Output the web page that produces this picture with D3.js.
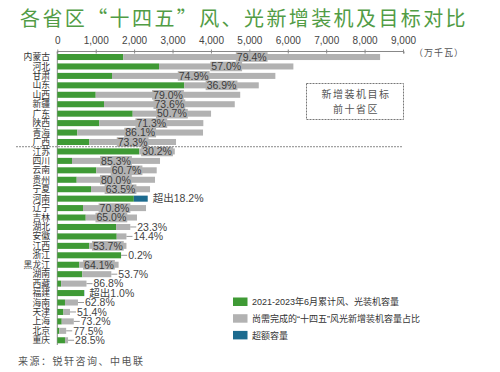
<!DOCTYPE html>
<html>
<head>
<meta charset="utf-8">
<script src="https://cdn.jsdelivr.net/npm/d3@7"></script>
<style>
  body { margin: 0; background: #fff; }
  svg { display: block; }
</style>
</head>
<body>
<div id="chart"></div>
<script>
const provinces = ['内蒙古', '河北', '甘肃', '山东', '山西', '新疆', '广东', '陕西', '青海', '广西',
  '江苏', '四川', '云南', '贵州', '宁夏', '河南', '辽宁', '吉林', '湖北', '安徽', '江西', '浙江',
  '黑龙江', '湖南', '西藏', '福建', '海南', '天津', '上海', '北京', '重庆'];

// 2021-2023.6 cumulative wind + solar installed (万千瓦)
const installed = [1719, 2648, 1424, 3307, 1000, 1216, 1963, 1094, 521, 833,
  2135, 383, 1016, 505, 878, 2354, 669, 740, 1529, 1547, 833, 1659,
  573, 651, 100, 703, 200, 160, 115, 52, 200];

// "十四五" new-installation target (万千瓦)
const target = [8404, 6146, 5677, 5245, 4762, 4620, 4003, 3802, 3794, 3091,
  3059, 2674, 2588, 2544, 2414, 1992, 2310, 2075, 1900, 1800, 1800, 1662,
  1596, 1406, 760, 696, 538, 330, 429, 231, 280];

const pctLabels = ['79.4%', '57.0%', '74.9%', '36.9%', '79.0%', '73.6%', '50.7%', '71.3%', '86.1%', '73.3%',
  '30.2%', '85.3%', '60.7%', '80.0%', '63.5%', '超出18.2%', '70.8%', '65.0%', '23.3%', '14.4%', '53.7%', '0.2%',
  '64.1%', '53.7%', '86.8%', '超出1.0%', '62.8%', '51.4%', '73.2%', '77.5%', '28.5%'];

const xTicks = [0, 1000, 2000, 3000, 4000, 5000, 6000, 7000, 8000, 9000];

const legendItems = [
  { label: '2021-2023年6月累计风、光装机容量', color: '#3f9a35' },
  { label: '尚需完成的“十四五”风光新增装机容量占比', color: '#b2b2b2' },
  { label: '超额容量', color: '#1b6a8e' }
];

const W = 500;
const H = 372;
const GREEN = '#3f9a35';
const GRAY = '#b2b2b2';
const BLUE = '#1b6a8e';
const numFont = '"Liberation Sans", Arial, "Noto Sans CJK SC", sans-serif';
const cjkFont = '"Noto Sans CJK SC", sans-serif';

const data = provinces.map((p, i) => ({
  name: p,
  done: installed[i],
  goal: target[i],
  label: pctLabels[i]
}));

const svg = d3.select('#chart').append('svg')
  .attr('width', W)
  .attr('height', H);

// Title
svg.append('text')
  .attr('x', 20)
  .attr('y', 26)
  .attr('fill', '#519c45')
  .style('font-family', cjkFont)
  .style('font-size', '20px')
  .style('letter-spacing', '2.4px')
  .text('各省区“十四五”风、光新增装机及目标对比');

// Scales
const x = d3.scaleLinear()
  .domain([0, 9000])
  .range([57.3, 403]);

const y = d3.scaleBand()
  .domain(provinces)
  .range([52.3, 345])
  .paddingInner(0.36)
  .paddingOuter(0.18);

// Top axis
const xAxis = d3.axisTop(x)
  .tickValues(xTicks)
  .tickFormat(d3.format(','))
  .tickSize(3)
  .tickPadding(5);

const axisG = svg.append('g')
  .attr('transform', 'translate(0, 51.5)')
  .call(xAxis);

axisG.select('.domain')
  .attr('stroke', '#888')
  .attr('d', `M${x(0)},2V0H${x(9000) + 1}V2`);
axisG.selectAll('.tick line').attr('stroke', '#888').attr('y2', 2).attr('y1', -2);
axisG.selectAll('.tick text')
  .attr('fill', '#444')
  .style('font-family', numFont)
  .style('font-size', '10px');

svg.append('text')
  .attr('x', 414)
  .attr('y', 56)
  .attr('fill', '#555')
  .style('font-family', cjkFont)
  .style('font-size', '9px')
  .style('letter-spacing', '1px')
  .text('（万千瓦）');

// Left axis line
svg.append('line')
  .attr('x1', x(0))
  .attr('x2', x(0))
  .attr('y1', 51.5)
  .attr('y2', 345)
  .attr('stroke', '#888');

// Province labels
svg.append('g').selectAll('text')
  .data(data)
  .join('text')
  .attr('x', 50)
  .attr('y', d => y(d.name) + y.bandwidth() / 2)
  .attr('dy', '0.35em')
  .attr('text-anchor', 'end')
  .attr('fill', '#333')
  .style('font-family', cjkFont)
  .style('font-size', '8.8px')
  .text(d => d.name);

const bars = svg.append('g');

// green: installed, capped at target
bars.selectAll('rect.done')
  .data(data)
  .join('rect')
  .attr('class', 'done')
  .attr('x', x(0))
  .attr('y', d => y(d.name))
  .attr('width', d => x(Math.min(d.done, d.goal)) - x(0))
  .attr('height', y.bandwidth())
  .attr('fill', GREEN);

// gray: remaining to target
bars.selectAll('rect.left')
  .data(data.filter(d => d.goal > d.done))
  .join('rect')
  .attr('class', 'left')
  .attr('x', d => x(d.done))
  .attr('y', d => y(d.name))
  .attr('width', d => x(d.goal) - x(d.done))
  .attr('height', y.bandwidth())
  .attr('fill', GRAY);

// blue: over target
bars.selectAll('rect.over')
  .data(data.filter(d => d.done > d.goal))
  .join('rect')
  .attr('class', 'over')
  .attr('x', d => x(d.goal))
  .attr('y', d => y(d.name))
  .attr('width', d => x(d.done) - x(d.goal))
  .attr('height', y.bandwidth())
  .attr('fill', BLUE);

// value labels
const labelG = svg.append('g');

data.forEach((d) => {
  const cy = y(d.name) + y.bandwidth() / 2;
  const x0 = x(d.done);
  const x1 = x(d.goal);
  const end = Math.max(x0, x1);

  if (d.done > d.goal) {
    labelG.append('text')
      .attr('x', end + 5)
      .attr('y', cy)
      .attr('dy', '0.36em')
      .attr('fill', '#444')
      .style('font-family', numFont)
      .style('font-size', '10.5px')
      .text(d.label);
  } else if (x1 - x0 >= 30) {
    const t = labelG.append('text')
      .attr('x', (x0 + x1) / 2)
      .attr('y', cy)
      .attr('dy', '0.36em')
      .attr('text-anchor', 'middle')
      .attr('fill', '#3c3c3c')
      .style('font-family', numFont)
      .style('font-size', '10.5px')
      .text(d.label);
    const bb = t.node().getBBox();
    labelG.insert('rect', () => t.node())
      .attr('x', bb.x - 1)
      .attr('y', cy - 4.8)
      .attr('width', bb.width + 2)
      .attr('height', 9.6)
      .attr('fill', GRAY);
  } else {
    labelG.append('line')
      .attr('x1', end)
      .attr('x2', end + 6)
      .attr('y1', cy)
      .attr('y2', cy)
      .attr('stroke', '#999');
    labelG.append('text')
      .attr('x', end + 7)
      .attr('y', cy)
      .attr('dy', '0.36em')
      .attr('fill', '#444')
      .style('font-family', numFont)
      .style('font-size', '10.5px')
      .text(d.label);
  }
});

// separator under top ten
const sepY = (y(provinces[9]) + y(provinces[10]) + y.bandwidth()) / 2;
svg.append('line')
  .attr('x1', 16)
  .attr('x2', 402)
  .attr('y1', sepY)
  .attr('y2', sepY)
  .attr('stroke', '#888')
  .attr('stroke-dasharray', '2,1');

// annotation box
svg.append('rect')
  .attr('x', 306.5)
  .attr('y', 83.5)
  .attr('width', 97)
  .attr('height', 36)
  .attr('fill', 'none')
  .attr('stroke', '#777')
  .attr('stroke-dasharray', '2,1');

svg.append('text')
  .attr('text-anchor', 'middle')
  .attr('fill', '#555')
  .style('font-family', cjkFont)
  .style('font-size', '10px')
  .style('letter-spacing', '1.5px')
  .selectAll('tspan')
  .data(['新增装机目标', '前十省区'])
  .join('tspan')
  .attr('x', 356)
  .attr('y', (d, i) => 98 + i * 15)
  .text(d => d);

// legend
const legend = svg.append('g')
  .selectAll('g')
  .data(legendItems)
  .join('g')
  .attr('transform', (d, i) => `translate(233, ${297.5 + i * 16.7})`);

legend.append('rect')
  .attr('width', 14.5)
  .attr('height', 8.5)
  .attr('fill', d => d.color);

legend.append('text')
  .attr('x', 19)
  .attr('y', 4.5)
  .attr('dy', '0.35em')
  .attr('fill', '#333')
  .style('font-family', numFont)
  .style('font-size', '9px')
  .text(d => d.label);

// source
svg.append('text')
  .attr('x', 18)
  .attr('y', 365)
  .attr('fill', '#555')
  .style('font-family', cjkFont)
  .style('font-size', '10px')
  .style('letter-spacing', '1.5px')
  .text('来源：锐轩咨询、中电联');
</script>
</body>
</html>
